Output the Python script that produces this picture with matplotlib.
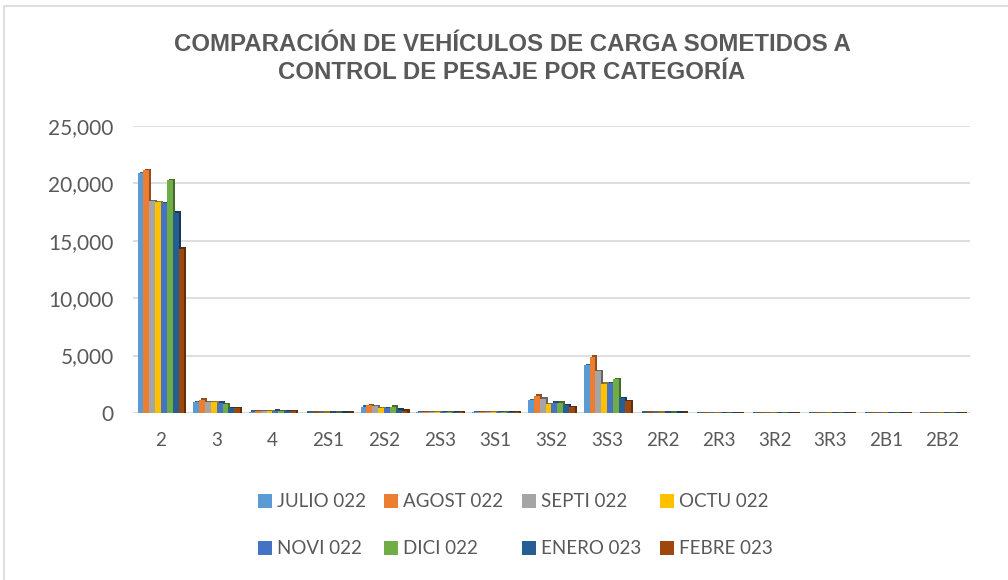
import numpy as np
import matplotlib.pyplot as plt
from matplotlib.patches import Patch, Rectangle
from matplotlib.colors import to_rgb

categorias = ["2", "3", "4", "2S1", "2S2", "2S3", "3S1", "3S2", "3S3",
              "2R2", "2R3", "3R2", "3R3", "2B1", "2B2"]
meses = ["JULIO 022", "AGOST 022", "SEPTI 022", "OCTU 022",
         "NOVI 022", "DICI 022", "ENERO 023", "FEBRE 023"]
colores = ["#5B9BD5", "#ED7D31", "#A5A5A5", "#FFC000",
           "#4472C4", "#70AD47", "#255E91", "#9E480E"]

# vehiculos por mes (filas) y categoria (columnas)
julio = [20900, 950, 120, 30, 550, 60, 60, 1100, 4150, 20, 10, 15, 10, 10, 10]
agost = [21150, 1150, 150, 30, 700, 70, 70, 1500, 4900, 20, 10, 15, 10, 10, 10]
septi = [18450, 950, 130, 30, 600, 60, 60, 1250, 3650, 20, 10, 15, 10, 10, 10]
octu = [18350, 950, 150, 30, 400, 60, 60, 750, 2550, 20, 10, 15, 10, 10, 10]
novi = [18250, 900, 200, 30, 450, 60, 60, 900, 2600, 20, 10, 15, 10, 10, 10]
dici = [20300, 750, 180, 30, 550, 60, 70, 900, 2950, 20, 10, 15, 10, 10, 10]
enero = [17450, 450, 170, 30, 300, 60, 60, 650, 1300, 20, 10, 15, 10, 10, 10]
febre = [14300, 400, 150, 30, 200, 50, 50, 500, 1050, 20, 10, 15, 10, 10, 10]
series = [julio, agost, septi, octu, novi, dici, enero, febre]

plt.rcParams["font.family"] = ["Lato", "DejaVu Sans"]
gris = "#595959"

fig = plt.figure(figsize=(10.08, 5.8), dpi=100)
ax = fig.add_axes([0.132, 0.288, 0.83, 0.495])

x = np.arange(len(categorias))
n = len(series)
ancho = 0.105
prof_x = ancho * 0.35
prof_y = 110

for i, (vals, c) in enumerate(zip(series, colores)):
    pos = x + (i - (n - 1) / 2) * ancho
    vals = np.array(vals)
    oscuro = tuple(v * 0.62 for v in to_rgb(c))
    # cara lateral/superior para dar profundidad
    ax.bar(pos + prof_x, vals + prof_y, width=ancho, color=oscuro,
           zorder=2, linewidth=0)
    ax.bar(pos, vals, width=ancho, color=c, zorder=3, linewidth=0)

ax.set_xlim(-0.5, len(categorias) - 0.5)
ax.set_ylim(0, 25000)
ax.set_yticks(np.arange(0, 25001, 5000))
ax.set_yticklabels([f"{v:,}" for v in range(0, 25001, 5000)])
ax.set_xticks(x)
ax.set_xticklabels(categorias)
ax.yaxis.grid(True, color="#D9D9D9", linewidth=1.2, zorder=0)
ax.set_axisbelow(True)
for s in ax.spines.values():
    s.set_visible(False)
ax.axhline(0, color="#D9D9D9", linewidth=2.0, zorder=1)
ax.tick_params(axis="both", length=0, colors=gris)
ax.tick_params(axis="y", pad=14, labelsize=15)
ax.tick_params(axis="x", pad=14, labelsize=13.5)

fig.text(0.508, 0.899, "COMPARACIÓN DE VEHÍCULOS DE CARGA SOMETIDOS A\nCONTROL DE PESAJE POR CATEGORÍA",
         ha="center", va="center", fontsize=17.3, fontweight="bold",
         color=gris, family="Liberation Sans", linespacing=1.3)

# la leyenda se llena por columnas: se reordena para leer por filas
orden = [0, 4, 1, 5, 2, 6, 3, 7]
handles = [Patch(facecolor=colores[k], edgecolor="none") for k in orden]
etiquetas = [meses[k] for k in orden]
fig.legend(handles, etiquetas, loc="center", bbox_to_anchor=(0.511, 0.094), ncol=4,
           frameon=False, fontsize=13.5, labelcolor=gris, handlelength=0.75,
           handleheight=0.75, handletextpad=0.25, columnspacing=1.0,
           labelspacing=1.6)

fig.patches.append(Rectangle((4 / 1008, -0.1), 1.2, (580 - 6) / 580 + 0.1,
                             transform=fig.transFigure, fill=False,
                             edgecolor="#D9D9D9", linewidth=1.2))

fig.savefig("out.png", dpi=100)
